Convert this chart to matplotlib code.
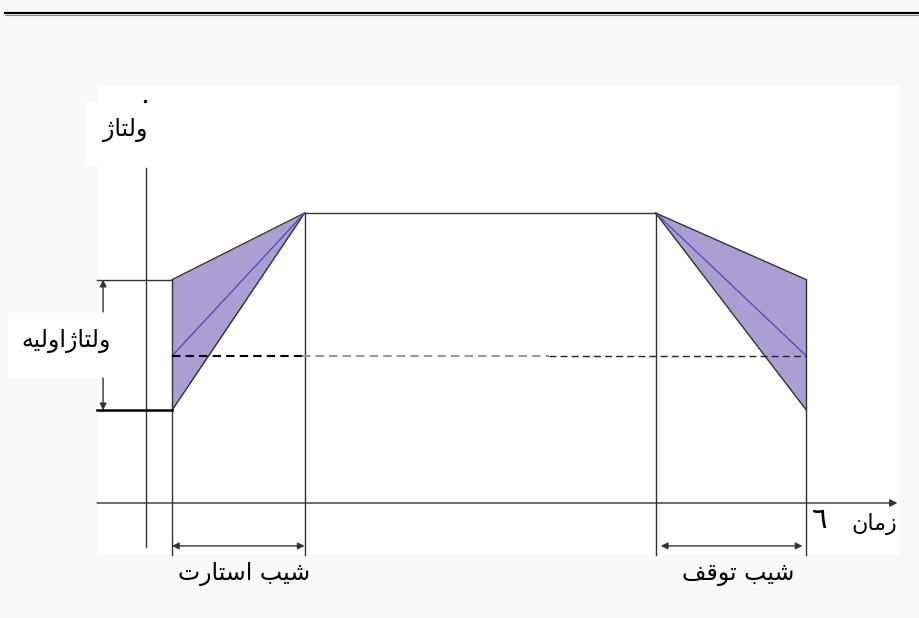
import numpy as np
import matplotlib.pyplot as plt
from matplotlib.patches import Rectangle

# soft start / soft stop voltage profile
# time in s, voltage in % of full voltage
t_start = 1.0       # start ramp begins
t_full = 6.1        # full voltage reached
t_stop = 19.6       # stop ramp begins
t_end = 25.4        # stop ramp ends
t_axis = [-1.88, 28.9]

v_full = 100.0
v_init_high = 77.0
v_init = 50.7
v_init_low = 32.0

ramp_t = [t_start, t_full, t_stop, t_end]
band_upper = [v_init_high, v_full, v_full, v_init_high]
band_mid = [v_init, v_full, v_full, v_init]
band_lower = [v_init_low, v_full, v_full, v_init_low]

# labels: arabic presentation forms, logical order
lbl_voltage = '\uFEED\uFEDF\uFE98\uFE8E\uFB8A'                                  # ولتاژ
lbl_init = '\uFEED\uFEDF\uFE98\uFE8E\uFB8A\uFE8D\uFEED\uFEDF\uFBFF\uFEEA'         # ولتاژاولیه
lbl_start = '\uFEB7\uFBFF\uFE90 \uFE8D\uFEB3\uFE98\uFE8E\uFEAD\uFE95'            # شیب استارت
lbl_stop = '\uFEB7\uFBFF\uFE90 \uFE97\uFEEE\uFED7\uFED2'                         # شیب توقف
lbl_time = '\uFEAF\uFEE3\uFE8E\uFEE5'                                          # زمان
lbl_T = '\u0666'


def vis(s):
    # matplotlib lays glyphs out left to right, so flip for RTL
    return s[::-1]


W, H = 920, 618
fig = plt.figure(figsize=(W / 100, H / 100), dpi=100)
fig.patch.set_facecolor('#f9f9f9')

# background / layout axes in pixel coords
bg = fig.add_axes([0, 0, 1, 1])
bg.set_xlim(0, W)
bg.set_ylim(H, 0)
bg.axis('off')
bg.add_patch(Rectangle((98, 85), 802, 470, fc='white', ec='none'))
bg.add_patch(Rectangle((85, 102), 65, 63, fc='white', ec='none'))
bg.add_patch(Rectangle((8, 313), 92, 65, fc='white', ec='none'))
bg.plot([5, W], [13, 13], color='black', lw=1.6)
bg.plot([5, W], [15, 15], color='#888888', lw=0.8)

fs = 17
bg.text(125, 130, vis(lbl_voltage), fontsize=fs, ha='center', va='center')
bg.text(66, 341, vis(lbl_init), fontsize=fs, ha='center', va='center')
bg.text(244, 574, vis(lbl_start), fontsize=fs, ha='center', va='center')
bg.text(738, 574, vis(lbl_stop), fontsize=fs, ha='center', va='center')
bg.text(874, 524, vis(lbl_time), fontsize=16, ha='center', va='center')
bg.text(820, 520, lbl_T, fontsize=21, ha='center', va='center')
bg.plot([145], [101], marker='.', color='black', ms=3)

# diagram axes: x_px = 146 + 26 t, y_px = 503 - 2.9 v
ax = fig.add_axes([0, 0, 1, 1])
ax.set_xlim(-146 / 26, (W - 146) / 26)
ax.set_ylim((503 - H) / 2.9, 503 / 2.9)
ax.axis('off')
ax.patch.set_alpha(0)

lc = '#333333'
v_top_axis = 115.5
v_bottom = -17.9
v_arrow = -14.8

# axes
ax.plot([0, 0], [v_top_axis, -15.2], color=lc, lw=1)
ax.annotate('', xy=(t_axis[1], 0), xytext=(t_axis[0], 0),
            arrowprops=dict(arrowstyle='-|>', color=lc, lw=1,
                            mutation_scale=11, shrinkA=0, shrinkB=0))

# ramp bands
fill_c = '#ab9ed3'
ax.fill_between(ramp_t[:2], band_lower[:2], band_upper[:2], color=fill_c, lw=0)
ax.fill_between(ramp_t[2:], band_lower[2:], band_upper[2:], color=fill_c, lw=0)
for i in (0, 2):
    ax.plot(ramp_t[i:i + 2], band_upper[i:i + 2], color=lc, lw=1)
    ax.plot(ramp_t[i:i + 2], band_lower[i:i + 2], color=lc, lw=1)
    ax.plot(ramp_t[i:i + 2], band_mid[i:i + 2], color='#5a4db8', lw=1)

# full voltage
ax.plot(ramp_t[1:3], band_upper[1:3], color=lc, lw=1)

# vertical markers
ax.plot([t_start, t_start], [v_init_high, v_bottom], color=lc, lw=1)
ax.plot([t_full, t_full], [v_full, v_bottom], color=lc, lw=1)
ax.plot([t_stop, t_stop], [v_full, v_bottom], color=lc, lw=1)
ax.plot([t_end, t_end], [v_init_high, v_bottom], color=lc, lw=1)

# initial voltage marks
ax.plot([t_axis[0], t_start], [v_init_high, v_init_high], color=lc, lw=1)
ax.plot([t_axis[0], t_start], [v_init_low, v_init_low], color='black', lw=1.8)
ax.plot([t_start, 6.0], [v_init, v_init], color='black', lw=1.5, ls=(0, (4, 2.5)))
ax.plot([6.0, 15.5], [v_init, v_init], color='#999999', lw=1.5, ls=(0, (4, 2.5)))
ax.plot([15.5, t_end], [v_init, v_init], color='#222222', lw=1, ls=(0, (5, 3)))

arr = dict(arrowstyle='-|>', color=lc, lw=1, mutation_scale=10, shrinkA=0, shrinkB=0)
ax.annotate('', xy=(-1.65, v_init_high), xytext=(-1.65, 65.9), arrowprops=arr)
ax.annotate('', xy=(-1.65, v_init_low), xytext=(-1.65, 43.1), arrowprops=arr)

darr = dict(arrowstyle='<|-|>', color=lc, lw=1, mutation_scale=10, shrinkA=0, shrinkB=0)
ax.annotate('', xy=(t_full, v_arrow), xytext=(t_start, v_arrow), arrowprops=darr)
ax.annotate('', xy=(t_end - 0.15, v_arrow), xytext=(t_stop + 0.2, v_arrow), arrowprops=darr)

fig.savefig('out.png', dpi=100, facecolor=fig.get_facecolor())
